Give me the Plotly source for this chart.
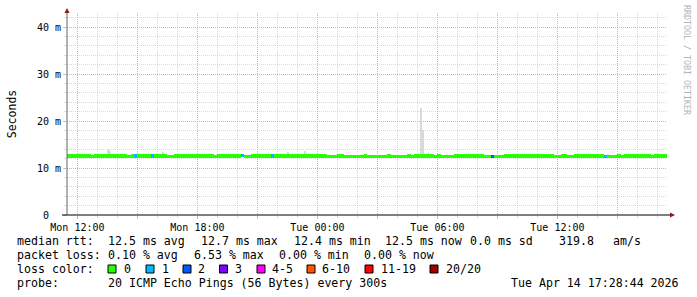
import plotly.graph_objects as go
import pandas as pd

# ---------------- data ----------------
range_start = "2026-04-13 11:28:44"
range_end = "2026-04-14 17:28:44"

median_start = "2026-04-13 11:30"
median_step_min = 10
# median rtt (ms) per 10-minute bin
median_ms = [
    12.55, 12.55, 12.55, 12.55, 12.55, 12.55, 12.55, 12.4, 12.55, 12.55,
    12.55, 12.55, 12.55, 12.55, 12.55, 12.55, 12.55, 12.55, 12.4, 12.55,
    12.55, 12.55, 12.55, 12.55, 12.55, 12.55, 12.55, 12.55, 12.55, 12.55,
    12.4, 12.4, 12.55, 12.55, 12.55, 12.55, 12.55, 12.55, 12.55, 12.55,
    12.55, 12.55, 12.55, 12.55, 12.4, 12.55, 12.55, 12.55, 12.55, 12.55,
    12.55, 12.55, 12.7, 12.4, 12.4, 12.55, 12.55, 12.55, 12.55, 12.55,
    12.55, 12.55, 12.55, 12.55, 12.55, 12.55, 12.55, 12.55, 12.55, 12.55,
    12.55, 12.55, 12.55, 12.55, 12.55, 12.55, 12.55, 12.55, 12.4, 12.4,
    12.4, 12.55, 12.55, 12.4, 12.4, 12.4, 12.4, 12.4, 12.4, 12.55,
    12.4, 12.4, 12.4, 12.4, 12.4, 12.4, 12.55, 12.4, 12.4, 12.4,
    12.4, 12.4, 12.55, 12.4, 12.55, 12.55, 12.55, 12.55, 12.55, 12.55,
    12.4, 12.55, 12.4, 12.4, 12.4, 12.4, 12.55, 12.55, 12.55, 12.55,
    12.55, 12.55, 12.55, 12.55, 12.55, 12.4, 12.4, 12.4, 12.4, 12.4,
    12.4, 12.55, 12.55, 12.55, 12.55, 12.55, 12.55, 12.55, 12.55, 12.55,
    12.55, 12.55, 12.55, 12.55, 12.55, 12.55, 12.4, 12.4, 12.55, 12.55,
    12.4, 12.4, 12.55, 12.55, 12.55, 12.55, 12.55, 12.55, 12.55, 12.55,
    12.55, 12.4, 12.4, 12.4, 12.4, 12.55, 12.4, 12.55, 12.55, 12.55,
    12.55, 12.55, 12.55, 12.55, 12.55, 12.4, 12.55, 12.55, 12.55, 12.55,
]

# packet loss events (lost pings out of 20) per 10-minute bin start
loss_times = ["2026-04-13 14:50", "2026-04-13 15:40", "2026-04-13 20:10",
              "2026-04-13 21:40", "2026-04-14 08:40", "2026-04-14 14:20"]
loss_counts = [1, 1, 1, 1, 2, 1]

# smoke (ping spread) upper edge, 5-minute bins
smoke_times = ["2026-04-13 13:30", "2026-04-13 13:35", "2026-04-13 16:15",
               "2026-04-13 18:00", "2026-04-13 22:30", "2026-04-13 23:20",
               "2026-04-13 23:25", "2026-04-14 05:10", "2026-04-14 05:15",
               "2026-04-14 05:30", "2026-04-14 05:45", "2026-04-14 14:30"]
smoke_top_ms = [14.0, 13.7, 13.4, 12.9, 13.4, 13.6, 13.3, 22.8, 18.0, 13.2, 12.9, 12.9]
smoke_base_ms = 12.3

loss_labels = ["0", "1", "2", "3", "4-5", "6-10", "11-19", "20/20"]
loss_colors = ["#26ff00", "#00b8ff", "#0059ff", "#7e00ff", "#ff00ff",
               "#ff5500", "#ff0000", "#a10000"]

x_tick_times = ["2026-04-13 12:00", "2026-04-13 15:00", "2026-04-13 18:00",
                "2026-04-13 21:00", "2026-04-14 00:00", "2026-04-14 03:00",
                "2026-04-14 06:00", "2026-04-14 09:00", "2026-04-14 12:00",
                "2026-04-14 15:00"]
x_tick_labels = ["Mon 12:00", "", "Mon 18:00", "", "Tue 00:00", "",
                 "Tue 06:00", "", "Tue 12:00", ""]
y_tick_vals = [0, 10, 20, 30, 40]
y_tick_text = ["0\u00a0\u00a0", "10 m", "20 m", "30 m", "40 m"]

stats_rtt = [("median rtt:", 16), ("12.5 ms avg", 107), ("12.7 ms max", 200),
             ("12.4 ms min", 293), ("12.5 ms now", 384), ("0.0 ms sd", 469),
             ("319.8", 558), ("am/s", 612)]
stats_loss = [("packet loss:", 16), ("0.10 % avg", 107), ("6.53 % max", 193),
              ("0.00 % min", 278), ("0.00 % now", 363)]
probe_text = "20 ICMP Echo Pings (56 Bytes) every 300s"
stamp_text = "Tue Apr 14 17:28:44 2026"

# ---------------- geometry ----------------
W, H = 697, 297
PL, PR, PT, PB = 67, 667, 13, 215
MONO = "DejaVu Sans Mono"


def px(xp):
    return (xp - PL) / (PR - PL)


def py(yp):
    return (PB - yp) / (PB - PT)


# ---------------- derived series ----------------
n = len(median_ms)
t0 = pd.Timestamp(median_start)
bin_starts = [t0 + pd.Timedelta(minutes=median_step_min * i) for i in range(n)]
bin_centers = [b + pd.Timedelta(minutes=median_step_min / 2) for b in bin_starts]
loss_map = {pd.Timestamp(t): c for t, c in zip(loss_times, loss_counts)}


def loss_color(c):
    if c <= 3:
        return loss_colors[c]
    if c <= 5:
        return loss_colors[4]
    if c <= 10:
        return loss_colors[5]
    if c <= 19:
        return loss_colors[6]
    return loss_colors[7]


band_colors = [loss_color(loss_map.get(b, 0)) for b in bin_starts]
half = 0.33
smoke_centers = [pd.Timestamp(t) + pd.Timedelta(minutes=2.5) for t in smoke_times]

fig = go.Figure()
fig.add_trace(go.Bar(
    x=smoke_centers, y=[v - smoke_base_ms for v in smoke_top_ms], base=smoke_base_ms,
    width=5 * 60 * 1000, marker=dict(color="#d9d9d9", line=dict(width=0)),
    showlegend=False, hoverinfo="skip"))
fig.add_trace(go.Bar(
    x=bin_centers, y=[2 * half] * n, base=[m - half for m in median_ms],
    width=median_step_min * 60 * 1000,
    marker=dict(color=band_colors, line=dict(width=0)),
    showlegend=False, hoverinfo="skip"))

major_grid = "rgba(230,140,140,0.6)"
minor_grid = "rgba(185,185,185,0.55)"

fig.update_layout(
    width=W, height=H,
    margin=dict(l=PL, r=W - PR, t=PT, b=H - PB, pad=0, autoexpand=False),
    paper_bgcolor="white", plot_bgcolor="white",
    barmode="overlay", bargap=0,
    showlegend=False,
    font=dict(family=MONO, size=10, color="#000"),
    xaxis=dict(
        type="date", range=[range_start, range_end],
        tickmode="array", tickvals=x_tick_times, ticktext=x_tick_labels,
        showgrid=True, gridcolor=major_grid, griddash="1px,1px", gridwidth=1,
        ticks="outside", ticklen=3, tickcolor=major_grid,
        tickfont=dict(family=MONO, size=10, color="#000"),
        showline=False, zeroline=False,
        minor=dict(tick0="2026-04-13 00:00", dtick=3600000, showgrid=True,
                   gridcolor=minor_grid, griddash="1px,1px", gridwidth=1,
                   ticks="outside", ticklen=2, tickcolor=minor_grid),
    ),
    yaxis=dict(
        range=[0, 43], tickmode="array", tickvals=y_tick_vals, ticktext=y_tick_text,
        showgrid=True, gridcolor=major_grid, griddash="1px,1px", gridwidth=1,
        ticks="outside", ticklen=3, tickcolor=major_grid,
        tickfont=dict(family=MONO, size=10, color="#000"),
        showline=False, zeroline=False,
        title=dict(text="Seconds", standoff=17,
                   font=dict(family=MONO, size=11.5, color="#000")),
        automargin=False,
        minor=dict(dtick=2, showgrid=True, gridcolor=minor_grid,
                   griddash="1px,1px", gridwidth=1,
                   ticks="outside", ticklen=2, tickcolor=minor_grid),
    ),
)

shapes = []
# axes lines with arrows
shapes.append(dict(type="line", xref="paper", yref="paper",
                   x0=px(67), x1=px(67), y0=py(215), y1=py(11),
                   line=dict(color="#666666", width=1)))
shapes.append(dict(type="line", xref="paper", yref="paper",
                   x0=px(62), x1=px(671), y0=py(215), y1=py(215),
                   line=dict(color="#000000", width=1)))
shapes.append(dict(type="path", xref="paper", yref="paper",
                   path=f"M {px(64.5)},{py(13)} L {px(69.5)},{py(13)} L {px(67)},{py(8)} Z",
                   fillcolor="#8b1a1a", line=dict(width=0)))
shapes.append(dict(type="path", xref="paper", yref="paper",
                   path=f"M {px(670)},{py(212.5)} L {px(670)},{py(217.5)} L {px(675)},{py(215)} Z",
                   fillcolor="#8b1a1a", line=dict(width=0)))

annotations = []


def txt(s, x, y, anchor="left", size=11.6, color="#000", angle=0):
    annotations.append(dict(text=s, xref="paper", yref="paper", x=px(x), y=py(y),
                            xanchor=anchor, yanchor="middle", showarrow=False,
                            textangle=angle, borderpad=0,
                            font=dict(family=MONO, size=size, color=color)))


for s, x in stats_rtt:
    txt(s, x, 241)
for s, x in stats_loss:
    txt(s, x, 255)
txt("loss color:", 16, 269)
sq_x = [108, 146, 183, 219.5, 257, 307, 365, 430]
lab_x = [123, 160.5, 197, 234, 271, 321, 380, 445]
for i, lab in enumerate(loss_labels):
    shapes.append(dict(type="rect", xref="paper", yref="paper",
                       x0=px(sq_x[i]), x1=px(sq_x[i] + 8), y0=py(273), y1=py(265),
                       fillcolor=loss_colors[i], line=dict(color="#000", width=1)))
    txt(lab, lab_x[i], 269)
txt("probe:", 16, 283)
txt(probe_text, 107, 283)
txt(stamp_text, 680, 283, anchor="right")

annotations.append(dict(text="RRDTOOL / TOBI OETIKER", xref="paper", yref="paper",
                        x=px(687), y=py(60), xanchor="center", yanchor="middle",
                        showarrow=False, textangle=90,
                        font=dict(family=MONO, size=8.3, color="#b4b4b4")))

fig.update_layout(shapes=shapes, annotations=annotations)
fig.write_html("out.html")
